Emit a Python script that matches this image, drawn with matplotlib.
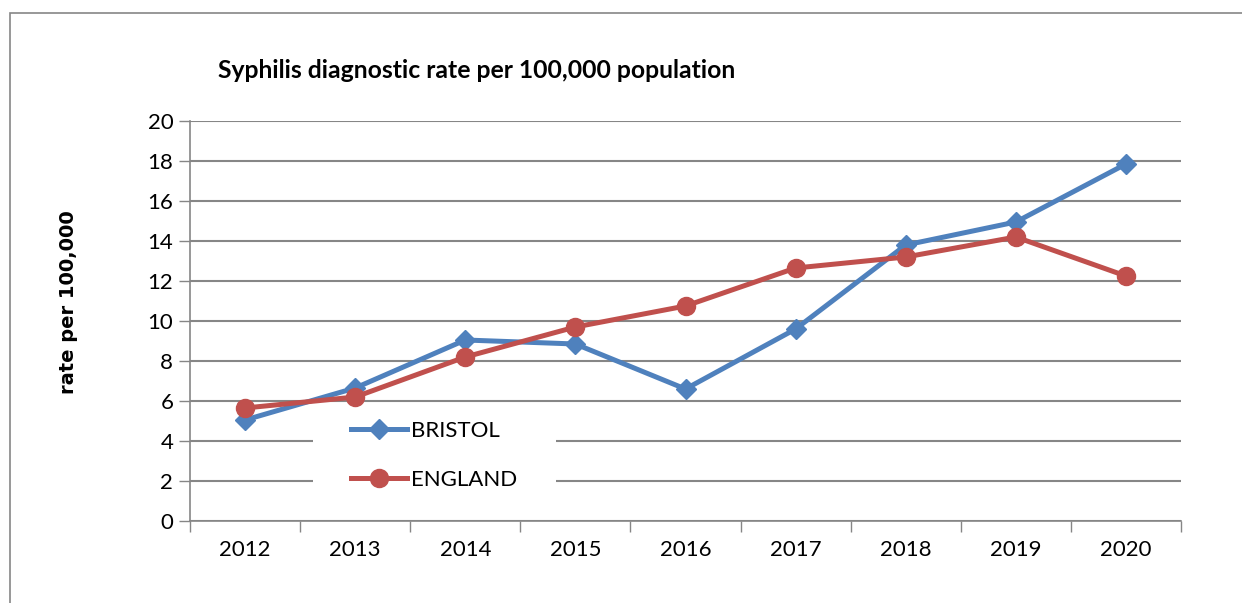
import matplotlib
matplotlib.use("Agg")
import matplotlib.pyplot as plt
from matplotlib.patches import Rectangle

years = ["2012", "2013", "2014", "2015", "2016", "2017", "2018", "2019", "2020"]
bristol = [5.05, 6.65, 9.05, 8.85, 6.6, 9.6, 13.8, 14.95, 17.85]
england = [5.65, 6.2, 8.2, 9.7, 10.75, 12.65, 13.2, 14.2, 12.25]
yticks = [0, 2, 4, 6, 8, 10, 12, 14, 16, 18, 20]

BLUE = "#4F81BD"
RED = "#C0504D"
GRID = "#868686"
FONT = ["Lato", "DejaVu Sans"]

fig = plt.figure(figsize=(12.42, 6.03), dpi=100)
W, H = 1242, 603
ax = fig.add_axes([190 / W, 1 - 521 / H, (1181 - 190) / W, (521 - 121) / H])

x = list(range(len(years)))
ax.plot(x, bristol, color=BLUE, lw=3.6, marker="D", ms=10, label="BRISTOL", zorder=3)
ax.plot(x, england, color=RED, lw=3.6, marker="o", ms=13, label="ENGLAND", zorder=4)

ax.set_xlim(-0.5, len(years) - 0.5)
ax.set_ylim(0, 20)
ax.set_yticks(yticks)
ax.set_yticklabels([str(v) for v in yticks], fontsize=16, family=FONT)
ax.set_xticks(x)
ax.set_xticklabels(years, fontsize=16, family=FONT)
ax.set_xticks([i - 0.5 for i in range(len(years) + 1)], minor=True)
ax.tick_params(axis="x", which="major", length=0, pad=14)
ax.tick_params(axis="x", which="minor", length=8, color=GRID, width=1)
ax.tick_params(axis="y", length=8, color=GRID, width=1, pad=4)

ax.grid(axis="y", color=GRID, lw=1.5, zorder=0)
ax.set_axisbelow(True)
for s in ["top", "right"]:
    ax.spines[s].set_visible(False)
ax.spines["left"].set_color(GRID)
ax.spines["bottom"].set_color(GRID)
ax.spines["left"].set_linewidth(1.2)
ax.spines["bottom"].set_linewidth(1.2)

fig.text(68 / W, 1 - 302 / H, "rate per 100,000", fontsize=14, fontweight="bold",
         family="DejaVu Sans", rotation=90, ha="center", va="center")

# white legend box behind the legend entries
ax.add_patch(Rectangle(((313 - 190) / 991, (521 - 502) / 400), (556 - 313) / 991, (502 - 409) / 400,
                       transform=ax.transAxes, facecolor="white", edgecolor="none", zorder=2))

leg = ax.legend(loc="center", bbox_to_anchor=((434.5 - 190) / 991, (521 - 455.5) / 400),
                frameon=False, prop={"family": FONT, "size": 16}, labelspacing=1.3,
                handlelength=2.5, handletextpad=0.2, borderpad=0.2)

fig.text(218 / W, 1 - 71 / H, "Syphilis diagnostic rate per 100,000 population",
         fontsize=17.8, fontweight="bold", family=FONT, va="center", ha="left")

fig.patches.append(Rectangle((10 / W, -0.1), 1.2, 1 - 13 / H + 0.1,
                             transform=fig.transFigure, fill=False, edgecolor="#868686", lw=1.2))

fig.savefig("out.png", dpi=100)
